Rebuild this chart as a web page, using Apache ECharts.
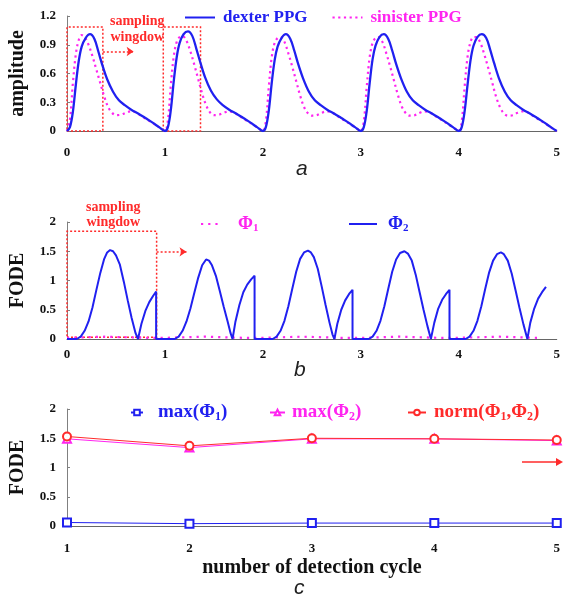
<!DOCTYPE html>
<html><head><meta charset="utf-8">
<script src="https://cdn.jsdelivr.net/npm/echarts@6/dist/echarts.min.js"></script>
<style>html,body{margin:0;padding:0;background:#fff}#c{width:563px;height:600px}</style>
</head><body><div id="c"></div>
<script>
// ---------- panel a: PPG waveforms ----------
const dexterT = [
0,0.03,0.06,0.09,0.12,0.15,0.19,0.235,0.28,0.32,0.36,0.41,0.47,0.53,0.59,0.66,0.73,0.80,0.87,0.94,
1,1.03,1.06,1.09,1.12,1.15,1.19,1.235,1.28,1.32,1.36,1.41,1.47,1.53,1.59,1.66,1.73,1.80,1.87,1.94,
2,2.03,2.06,2.09,2.12,2.15,2.19,2.235,2.28,2.32,2.36,2.41,2.47,2.53,2.59,2.66,2.73,2.80,2.87,2.94,
3,3.03,3.06,3.09,3.12,3.15,3.19,3.235,3.28,3.32,3.36,3.41,3.47,3.53,3.59,3.66,3.73,3.80,3.87,3.94,
4,4.03,4.06,4.09,4.12,4.15,4.19,4.235,4.28,4.32,4.36,4.41,4.47,4.53,4.59,4.66,4.73,4.80,4.87,4.94,5];
const dexterV = [
0,0.04,0.20,0.48,0.73,0.88,0.97,1.01,0.96,0.83,0.69,0.54,0.41,0.32,0.27,0.22,0.18,0.135,0.09,0.04,
0,0.04,0.22,0.52,0.77,0.92,1.01,1.04,0.99,0.86,0.72,0.56,0.42,0.33,0.27,0.22,0.18,0.135,0.09,0.04,
0,0.04,0.21,0.50,0.74,0.88,0.97,1.01,0.96,0.84,0.70,0.55,0.41,0.32,0.27,0.22,0.18,0.135,0.09,0.04,
0,0.04,0.21,0.50,0.75,0.89,0.98,1.01,0.96,0.84,0.70,0.55,0.41,0.32,0.27,0.22,0.18,0.135,0.09,0.04,
0,0.04,0.21,0.49,0.74,0.89,0.98,1.01,0.97,0.85,0.71,0.55,0.41,0.32,0.27,0.22,0.18,0.135,0.09,0.04,0];
const sinisterT = [
0,0.03,0.06,0.09,0.12,0.15,0.18,0.22,0.26,0.30,0.34,0.38,0.42,0.46,0.50,0.55,0.60,0.65,0.70,0.77,0.84,0.91,0.96,
1,1.03,1.06,1.09,1.12,1.15,1.18,1.22,1.26,1.30,1.34,1.38,1.42,1.46,1.50,1.55,1.60,1.65,1.70,1.77,1.84,1.91,1.96,
2,2.03,2.06,2.09,2.12,2.15,2.18,2.22,2.26,2.30,2.34,2.38,2.42,2.46,2.50,2.55,2.60,2.65,2.70,2.77,2.84,2.91,2.96,
3,3.03,3.06,3.09,3.12,3.15,3.18,3.22,3.26,3.30,3.34,3.38,3.42,3.46,3.50,3.55,3.60,3.65,3.70,3.77,3.84,3.91,3.96,
4,4.03,4.06,4.09,4.12,4.15,4.18,4.22,4.26,4.30,4.34,4.38,4.42,4.46,4.50,4.55,4.60,4.65,4.70,4.77,4.84,4.91,4.96,5];
const sinisterV = [
0,0.12,0.50,0.80,0.95,1.00,0.98,0.90,0.78,0.64,0.50,0.36,0.25,0.19,0.165,0.17,0.19,0.205,0.195,0.15,0.105,0.06,0.025,
0,0.11,0.48,0.78,0.93,0.98,0.99,0.94,0.83,0.69,0.54,0.39,0.27,0.195,0.165,0.17,0.19,0.205,0.195,0.15,0.105,0.06,0.025,
0,0.10,0.46,0.77,0.92,0.97,0.98,0.93,0.81,0.67,0.52,0.37,0.25,0.185,0.16,0.165,0.19,0.205,0.195,0.15,0.105,0.06,0.025,
0,0.10,0.46,0.77,0.92,0.97,0.98,0.93,0.81,0.67,0.52,0.37,0.25,0.185,0.16,0.165,0.19,0.205,0.195,0.15,0.105,0.06,0.025,
0,0.10,0.47,0.78,0.93,0.98,0.98,0.92,0.80,0.66,0.51,0.36,0.25,0.185,0.16,0.165,0.19,0.205,0.195,0.15,0.105,0.06,0.025,0];

// ---------- panel b: FODE ----------
const phi1T = [0,0.2,0.4,0.6,0.8,1.0,1.2,1.4,1.6,1.8,2.0,2.2,2.4,2.6,2.8,3.0,3.2,3.4,3.6,3.8,4.0,4.2,4.4,4.6,4.8];
const phi1V = [0.02,0.03,0.04,0.03,0.02,0.02,0.03,0.04,0.03,0.02,0.02,0.03,0.04,0.03,0.02,0.02,0.03,0.04,0.03,0.02,0.02,0.03,0.04,0.03,0.02];
const phi2T = [
0,0.10,0.14,0.18,0.22,0.26,0.30,0.34,0.38,0.41,0.44,0.47,0.50,0.54,0.58,0.62,0.66,0.70,0.725,0.76,0.80,0.84,0.88,0.91,0.91,
1.10,1.14,1.18,1.22,1.26,1.30,1.34,1.38,1.42,1.45,1.48,1.52,1.56,1.60,1.64,1.67,1.69,1.72,1.76,1.80,1.84,1.88,1.915,1.915,
2.10,2.14,2.18,2.22,2.26,2.30,2.34,2.38,2.42,2.46,2.49,2.52,2.56,2.60,2.64,2.68,2.71,2.73,2.76,2.80,2.84,2.88,2.915,2.915,
3.08,3.12,3.16,3.20,3.24,3.28,3.32,3.36,3.40,3.445,3.48,3.52,3.56,3.60,3.64,3.68,3.715,3.75,3.79,3.83,3.87,3.905,3.905,
4.07,4.11,4.15,4.19,4.23,4.27,4.31,4.35,4.39,4.43,4.46,4.50,4.54,4.58,4.62,4.66,4.70,4.73,4.77,4.81,4.85,4.89];
const phi2V = [
0,0,0.04,0.14,0.30,0.54,0.84,1.13,1.37,1.48,1.52,1.50,1.43,1.27,0.98,0.66,0.36,0.10,0,0.26,0.48,0.63,0.74,0.81,0,
0,0.04,0.14,0.30,0.52,0.79,1.05,1.26,1.36,1.34,1.26,1.08,0.82,0.55,0.30,0.10,0,0.30,0.58,0.80,0.93,1.02,1.08,0,
0,0.04,0.14,0.31,0.56,0.86,1.15,1.37,1.48,1.51,1.48,1.40,1.20,0.90,0.58,0.28,0.08,0,0.26,0.50,0.66,0.77,0.84,0,
0,0.04,0.14,0.31,0.56,0.86,1.15,1.36,1.47,1.50,1.46,1.34,1.10,0.80,0.50,0.22,0,0.28,0.52,0.67,0.77,0.84,0,
0,0.04,0.14,0.31,0.56,0.86,1.14,1.34,1.45,1.48,1.45,1.34,1.12,0.83,0.53,0.25,0,0.28,0.52,0.69,0.80,0.89];

// ---------- panel c: per detection cycle ----------
const cycles = [1,2,3,4,5];
const maxPhi1 = [0.06,0.04,0.05,0.05,0.05];
const maxPhi2 = [1.49,1.34,1.49,1.49,1.46];
const normPhi = [1.53,1.37,1.50,1.49,1.47];

// tick labels
const ticksA = [0,0.3,0.6,0.9,1.2];
const ticksB = [0,0.5,1,1.5,2];

const SERIF = "'Liberation Serif','Times New Roman',serif";
const SANS = "'Liberation Sans',Arial,sans-serif";
const BLUE = '#2020f0', MAG = '#ff24f0', RED = '#ff2b2b', AX = '#808080';

const pair = (t, v) => t.map((x, i) => [x, v[i]]);
const pairC = (v) => cycles.map((x, i) => [x, v[i]]);

const tickLbl = {fontFamily: SERIF, fontWeight: 'bold', fontSize: 13, color: '#111'};
const nameStyle = {fontFamily: SERIF, fontWeight: 'bold', fontSize: 20, color: '#111'};

function xAx(g, min, margin, extra) {
  return Object.assign({gridIndex: g, type: 'value', min: min, max: 5, interval: 1,
    axisLine: {lineStyle: {color: '#666', width: 1}}, axisTick: {show: false},
    splitLine: {show: false}, axisLabel: Object.assign({margin: margin}, tickLbl)}, extra || {});
}
function yAx(g, max, interval, name, gap, ticks) {
  return {gridIndex: g, type: 'value', min: 0, max: max, interval: interval,
    name: name, nameLocation: 'middle', nameGap: gap, nameRotate: 90, nameTextStyle: nameStyle,
    axisLine: {show: true, lineStyle: {color: AX, width: 1}},
    axisTick: {show: true, inside: true, length: 3, lineStyle: {color: AX}},
    splitLine: {show: false},
    axisLabel: Object.assign({margin: 11, formatter: v => String(ticks.find(t => Math.abs(t - v) < 1e-6) ?? v)}, tickLbl)};
}

function mkRich(size, sub) {
  const r = {};
  [['b', BLUE], ['m', MAG], ['r', RED]].forEach(([k, c]) => {
    r[k] = {color: c, fontFamily: SERIF, fontWeight: 'bold', fontSize: size};
    r[k + 's'] = {color: c, fontFamily: SERIF, fontWeight: 'bold', fontSize: sub, padding: [Math.round(size * 0.45), 0, 0, 0]};
  });
  return r;
}
const legendText = {
  'dexter PPG': '{b|dexter PPG}',
  'sinister PPG': '{m|sinister PPG}',
  'Φ1': '{m|Φ}{ms|1}',
  'Φ2': '{b|Φ}{bs|2}',
  'max(Φ1)': '{b|max(Φ}{bs|1}{b|)}',
  'max(Φ2)': '{m|max(Φ}{ms|2}{m|)}',
  'norm(Φ1,Φ2)': '{r|norm(Φ}{rs|1}{r|,Φ}{rs|2}{r|)}'
};
function lg(names, left, top, w, h, pad, size, sub, hideSym, gap) {
  const o = {data: names, left: left, top: top, padding: 0, orient: 'horizontal', itemWidth: w, itemHeight: h,
    itemGap: gap || 10, selectedMode: false, formatter: n => legendText[n],
    textStyle: {rich: mkRich(size, sub), padding: [0, 0, 0, pad]}};
  if (hideSym) o.itemStyle = {opacity: 0};
  return o;
}

const win = {color: 'rgba(0,0,0,0)', borderColor: RED, borderWidth: 1.5, borderType: [2, 2]};
const arrowLine = {color: RED, width: 1.5, type: [2, 2]};

const chart = echarts.init(document.getElementById('c'), null, {renderer: 'canvas'});
chart.setOption({
  animation: false,
  backgroundColor: '#fff',
  grid: [
    {left: 67, width: 492, top: 16, height: 115},
    {left: 67, width: 492, top: 222, height: 117},
    {left: 67, width: 492, top: 409, height: 117}
  ],
  xAxis: [
    xAx(0, 0, 15),
    xAx(1, 0, 9),
    xAx(2, 1, 16, {name: 'number of detection cycle', nameLocation: 'middle', nameGap: 32,
      nameTextStyle: Object.assign({}, nameStyle, {fontSize: 20})})
  ],
  yAxis: [
    yAx(0, 1.2, 0.3, 'amplitude', 39, ticksA),
    yAx(1, 2, 0.5, 'FODE', 39, ticksB),
    yAx(2, 2, 0.5, 'FODE', 39, ticksB)
  ],
  legend: [
    lg(['dexter PPG', 'sinister PPG'], 184, 9, 30, 10, 3, 17, 11, true, 24),
    lg(['Φ1'], 200, 215, 20, 10, 12, 18, 11, true),
    lg(['Φ2'], 348, 215, 28, 10, 6, 18, 11, true),
    lg(['max(Φ1)'], 130, 403, 12, 7, 10, 19, 12, false),
    lg(['max(Φ2)'], 269, 403, 15, 7, 2, 19, 12, false),
    lg(['norm(Φ1,Φ2)'], 407, 403, 18, 7, 3, 19, 12, false)
  ],
  series: [
    {name: 'sinister PPG', type: 'line', xAxisIndex: 0, yAxisIndex: 0, data: pair(sinisterT, sinisterV),
      smooth: 0.35, symbol: 'none', lineStyle: {color: MAG, width: 2.2, type: [2.2, 3.5]}, itemStyle: {color: MAG}, z: 3},
    {name: 'dexter PPG', type: 'line', xAxisIndex: 0, yAxisIndex: 0, data: pair(dexterT, dexterV),
      smooth: 0.35, symbol: 'none', lineStyle: {color: BLUE, width: 2.3}, itemStyle: {color: BLUE}, z: 4,
      markArea: {silent: true, label: {show: false}, itemStyle: win,
        data: [[{coord: [0, 0]}, {coord: [0.366, 1.086]}], [{coord: [0.983, 0]}, {coord: [1.363, 1.086]}]]},
      markLine: {silent: true, symbol: ['none', 'arrow'], symbolSize: 7, label: {show: false}, lineStyle: arrowLine,
        data: [[{coord: [0.366, 0.83]}, {coord: [0.68, 0.83]}]]}},
    {name: 'Φ1', type: 'line', xAxisIndex: 1, yAxisIndex: 1, data: pair(phi1T, phi1V),
      symbol: 'none', lineStyle: {color: MAG, width: 2.2, type: [2.2, 5]}, itemStyle: {color: MAG}, z: 3},
    {name: 'Φ2', type: 'line', xAxisIndex: 1, yAxisIndex: 1, data: pair(phi2T, phi2V),
      symbol: 'none', lineStyle: {color: BLUE, width: 2}, itemStyle: {color: BLUE}, z: 4,
      markArea: {silent: true, label: {show: false}, itemStyle: win,
        data: [[{coord: [0, 0.03]}, {coord: [0.915, 1.84]}]]},
      markLine: {silent: true, symbol: ['none', 'arrow'], symbolSize: 7, label: {show: false}, lineStyle: arrowLine,
        data: [[{coord: [0.915, 1.49]}, {coord: [1.22, 1.49]}]]}},
    {name: 'max(Φ1)', type: 'line', xAxisIndex: 2, yAxisIndex: 2, data: pairC(maxPhi1),
      symbol: 'emptyRect', symbolSize: 8, lineStyle: {color: BLUE, width: 1}, itemStyle: {color: BLUE, borderWidth: 1}, z: 3},
    {name: 'max(Φ2)', type: 'line', xAxisIndex: 2, yAxisIndex: 2, data: pairC(maxPhi2),
      symbol: 'emptyTriangle', symbolSize: 8, lineStyle: {color: MAG, width: 1}, itemStyle: {color: MAG, borderWidth: 1}, z: 3},
    {name: 'norm(Φ1,Φ2)', type: 'line', xAxisIndex: 2, yAxisIndex: 2, data: pairC(normPhi),
      symbol: 'emptyCircle', symbolSize: 8, lineStyle: {color: RED, width: 1}, itemStyle: {color: RED, borderWidth: 1}, z: 4}
  ],
  graphic: [
    {type: 'text', left: 110, top: 13, style: {text: 'sampling\nwingdow', fill: RED, font: 'bold 14px ' + SERIF, textAlign: 'center', lineHeight: 16}},
    {type: 'text', left: 86, top: 200, style: {text: 'sampling\nwingdow', fill: RED, font: 'bold 14px ' + SERIF, textAlign: 'center', lineHeight: 15}},
    {type: 'text', left: 296, top: 159, style: {text: 'a', fill: '#222', font: 'italic 21px ' + SANS}},
    {type: 'text', left: 294, top: 360, style: {text: 'b', fill: '#222', font: 'italic 21px ' + SANS}},
    {type: 'text', left: 294, top: 578, style: {text: 'c', fill: '#222', font: 'italic 21px ' + SANS}},
    {type: 'line', shape: {x1: 522, y1: 462, x2: 556, y2: 462}, style: {stroke: RED, lineWidth: 1.5}},
    {type: 'polygon', shape: {points: [[556, 458], [563, 462], [556, 466]]}, style: {fill: RED}}
  ]
});
</script>
</body></html>
